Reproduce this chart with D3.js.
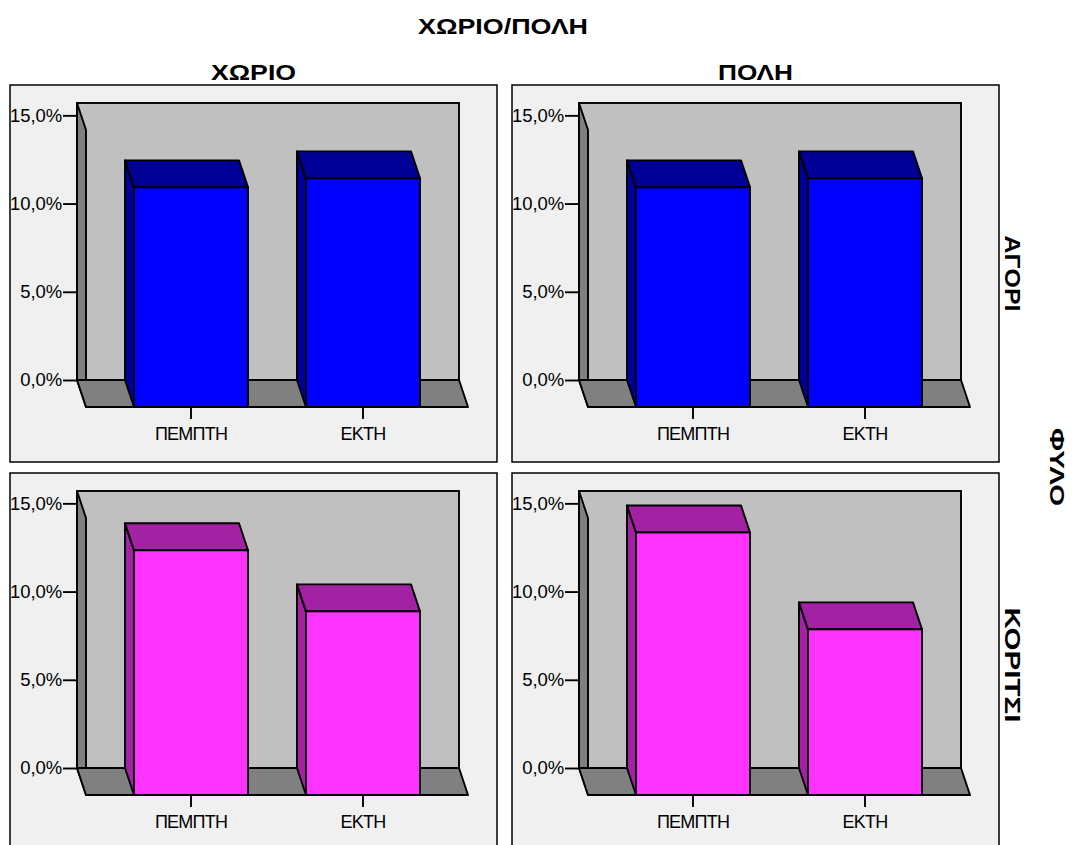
<!DOCTYPE html>
<html>
<head>
<meta charset="utf-8">
<script src="https://cdn.jsdelivr.net/npm/d3@7"></script>
<style>
  html, body { margin: 0; padding: 0; background: #ffffff; }
  svg { display: block; }
  text { font-family: "Liberation Sans", Arial, sans-serif; fill: #000; }
</style>
</head>
<body>
<svg id="chart" width="1077" height="845"></svg>
<script>
// Column / row facets and bar categories
const columnLabels = ["ΧΩΡΙΟ", "ΠΟΛΗ"];
const rowLabels = ["ΑΓΟΡΙ", "ΚΟΡΙΤΣΙ"];
const grades = ["ΠΕΜΠΤΗ", "ΕΚΤΗ"];

// Percent of all pupils in each cell (ΠΕΜΠΤΗ, ΕΚΤΗ)
const boysVillage  = [12.45, 12.96];
const boysTown     = [12.45, 12.96];
const girlsVillage = [13.87, 10.41];
const girlsTown    = [14.88, 9.39];

const yTicks = [0, 5, 10, 15];
const yDomainMax = 15.7;

const titleText = "ΧΩΡΙΟ/ΠΟΛΗ";
const rowTitleText = "ΦΥΛΟ";

const cells = [
  { row: 0, col: 0, values: boysVillage },
  { row: 0, col: 1, values: boysTown },
  { row: 1, col: 0, values: girlsVillage },
  { row: 1, col: 1, values: girlsTown }
];

const rowColors = [
  { front: "#0000ff", shade: "#000096" },
  { front: "#ff33ff", shade: "#a321a3" }
];

const svg = d3.select("#chart");

// Panel layout
const panelX = [10, 512];
const panelY = [85, 473];
const panelW = 487, panelH = 377;
const wallLeft = 67, wallRight = 449, wallTop = 18, wallBottom = 295;
const depthX = 9, depthY = 27;
const strokeW = 1.9;

const fmt = d => d.toFixed(1).replace(".", ",") + "%";

cells.forEach(cell => {
  const px = panelX[cell.col], py = panelY[cell.row];
  const colors = rowColors[cell.row];
  const g = svg.append("g").attr("transform", `translate(${px},${py})`);

  // panel frame
  g.append("rect")
    .attr("x", 0).attr("y", 0).attr("width", panelW).attr("height", panelH)
    .attr("fill", "#f0f0f0").attr("stroke", "#000").attr("stroke-width", 1.5);

  const y = d3.scaleLinear().domain([0, yDomainMax]).range([wallBottom, wallTop]);
  const x = d3.scaleBand().domain(grades)
    .range([wallLeft + depthX, wallRight + depthX])
    .paddingInner(0.337).paddingOuter(0.279);

  const y0 = y(0);
  const yTopWall = y(yDomainMax);

  // back wall
  g.append("rect")
    .attr("x", wallLeft).attr("y", yTopWall)
    .attr("width", wallRight - wallLeft).attr("height", y0 - yTopWall)
    .attr("fill", "#c0c0c0").attr("stroke", "#000").attr("stroke-width", strokeW);

  // left side wall
  g.append("polygon")
    .attr("points", [
      [wallLeft, yTopWall], [wallLeft + depthX, yTopWall + depthY],
      [wallLeft + depthX, y0 + depthY], [wallLeft, y0]
    ].join(" "))
    .attr("fill", "#808080").attr("stroke", "#000").attr("stroke-width", strokeW)
    .attr("stroke-linejoin", "round");

  // floor
  g.append("polygon")
    .attr("points", [
      [wallLeft, y0], [wallRight, y0],
      [wallRight + depthX, y0 + depthY], [wallLeft + depthX, y0 + depthY]
    ].join(" "))
    .attr("fill", "#808080").attr("stroke", "#000").attr("stroke-width", strokeW)
    .attr("stroke-linejoin", "round");

  // bars
  const bars = g.selectAll("g.bar")
    .data(grades.map((k, i) => ({ key: k, value: cell.values[i] })))
    .enter().append("g").attr("class", "bar");

  bars.each(function (d) {
    const b = d3.select(this);
    const x0 = x(d.key), x1 = x(d.key) + x.bandwidth();
    const yf = y(d.value) + depthY;
    const yb = y0 + depthY;
    // left side face
    b.append("polygon")
      .attr("points", [[x0, yf], [x0 - depthX, yf - depthY], [x0 - depthX, yb - depthY], [x0, yb]].join(" "))
      .attr("fill", colors.shade).attr("stroke", "#000").attr("stroke-width", strokeW)
      .attr("stroke-linejoin", "round");
    // top face
    b.append("polygon")
      .attr("points", [[x0, yf], [x1, yf], [x1 - depthX, yf - depthY], [x0 - depthX, yf - depthY]].join(" "))
      .attr("fill", colors.shade).attr("stroke", "#000").attr("stroke-width", strokeW)
      .attr("stroke-linejoin", "round");
    // front face
    b.append("rect")
      .attr("x", x0).attr("y", yf).attr("width", x1 - x0).attr("height", yb - yf)
      .attr("fill", colors.front).attr("stroke", "#000").attr("stroke-width", strokeW);
  });

  // value axis on the back wall
  const yAxis = g.append("g")
    .attr("transform", `translate(${wallLeft},0)`)
    .call(d3.axisLeft(y).tickValues(yTicks).tickFormat(fmt).tickSize(14).tickPadding(1));
  yAxis.select(".domain").remove();
  yAxis.selectAll(".tick line").attr("stroke", "#000").attr("stroke-width", strokeW);
  yAxis.selectAll(".tick text")
    .attr("font-size", 18.5).attr("letter-spacing", -0.1)
    .attr("font-family", "Liberation Sans, Arial, sans-serif").attr("fill", "#000");

  // category axis below the floor
  const xAxis = g.append("g")
    .attr("transform", `translate(0,${y0 + depthY})`)
    .call(d3.axisBottom(x).tickSize(12).tickPadding(8));
  xAxis.select(".domain").remove();
  xAxis.selectAll(".tick line").attr("stroke", "#000").attr("stroke-width", strokeW);
  xAxis.selectAll(".tick text")
    .attr("font-size", 18).attr("letter-spacing", -0.8)
    .attr("font-family", "Liberation Sans, Arial, sans-serif").attr("fill", "#000");
});

// overall title
svg.append("text")
  .attr("x", 503).attr("y", 34)
  .attr("text-anchor", "middle")
  .attr("font-size", 22).attr("font-weight", "bold")
  .attr("textLength", 170).attr("lengthAdjust", "spacingAndGlyphs")
  .text(titleText);

// column headers
const colLen = [85, 75];
columnLabels.forEach((c, i) => {
  svg.append("text")
    .attr("x", panelX[i] + panelW / 2).attr("y", 80)
    .attr("text-anchor", "middle")
    .attr("font-size", 22).attr("font-weight", "bold")
    .attr("textLength", colLen[i]).attr("lengthAdjust", "spacingAndGlyphs")
    .text(c);
});

// row headers, rotated
const rowLen = [76, 115];
const rowCenters = [273.5, 665];
rowLabels.forEach((r, i) => {
  svg.append("text")
    .attr("transform", `translate(1005,${rowCenters[i]}) rotate(90)`)
    .attr("text-anchor", "middle")
    .attr("font-size", 22).attr("font-weight", "bold")
    .attr("textLength", rowLen[i]).attr("lengthAdjust", "spacingAndGlyphs")
    .text(r);
});

svg.append("text")
  .attr("transform", `translate(1050,467) rotate(90)`)
  .attr("text-anchor", "middle")
  .attr("font-size", 21).attr("font-weight", "bold")
  .attr("textLength", 78).attr("lengthAdjust", "spacingAndGlyphs")
  .text(rowTitleText);
</script>
</body>
</html>
